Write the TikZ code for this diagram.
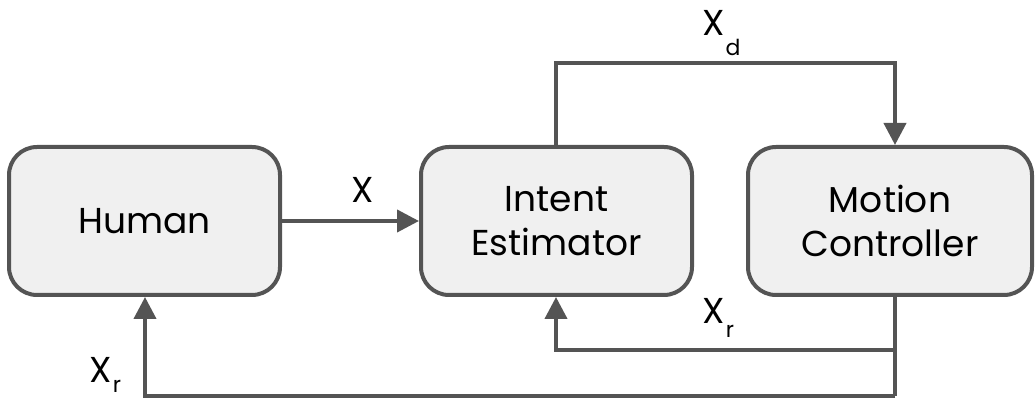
\documentclass[tikz,border=0pt]{standalone}
\usepackage{fontspec}
\setmainfont{Poppins}
\usetikzlibrary{arrows.meta}
\begin{document}
\begin{tikzpicture}[x=0.5pt,y=-0.5pt,
  block/.style={draw=black!67, line width=2pt, fill=black!6, rounded corners=14pt,
    inner sep=0pt, minimum width=135.5pt, minimum height=74pt, align=center,
    font=\fontsize{18}{24}\selectfont},
  wire/.style={draw=black!67, line width=2pt},
  flow/.style={wire, -{Triangle[length=11pt,width=11pt]}},
  lbl/.style={font=\fontsize{18}{20}\selectfont, inner sep=0pt},
  sub/.style={font=\fontsize{11}{12}\selectfont, inner sep=0pt}]
\useasboundingbox (0,0) rectangle (1035,400);
\node[block] (human) at (144.5,221) {Human};
\node[block] (intent) at (556.5,221) {Intent\\[-2pt]Estimator};
\node[block, minimum width=142pt] (motion) at (890,221) {Motion\\[-2pt]Controller};
\coordinate (top1) at (556,63);
\coordinate (top2) at (895,63);
\coordinate (mid1) at (895,350);
\coordinate (mid2) at (556,350);
\coordinate (bot1) at (895,396);
\coordinate (bot2) at (145,396);
% forward path
\draw[flow] (human.east) -- (intent.west);
\draw[flow] (intent.north -| top1) -- (top1) -- (top2) -- (motion.north -| top2);
% feedback paths
\draw[wire] (motion.south -| mid1) -- (bot1);
\draw[flow] (mid1) -- (mid2) -- (intent.south -| mid2);
\draw[flow] (bot1) -- (bot2) -- (human.south -| bot2);
% signal labels
\node[lbl] (lx) at (363,190) {X};
\node[lbl] (lxd) at (714,23) {X};
\node[sub] (lxds) at (733,47) {d};
\node[lbl] (lxr1) at (714,311) {X};
\node[sub] (lxr1s) at (730,331) {r};
\node[lbl] (lxr2) at (101,370) {X};
\node[sub] (lxr2s) at (117,386) {r};
\end{tikzpicture}
\end{document}
